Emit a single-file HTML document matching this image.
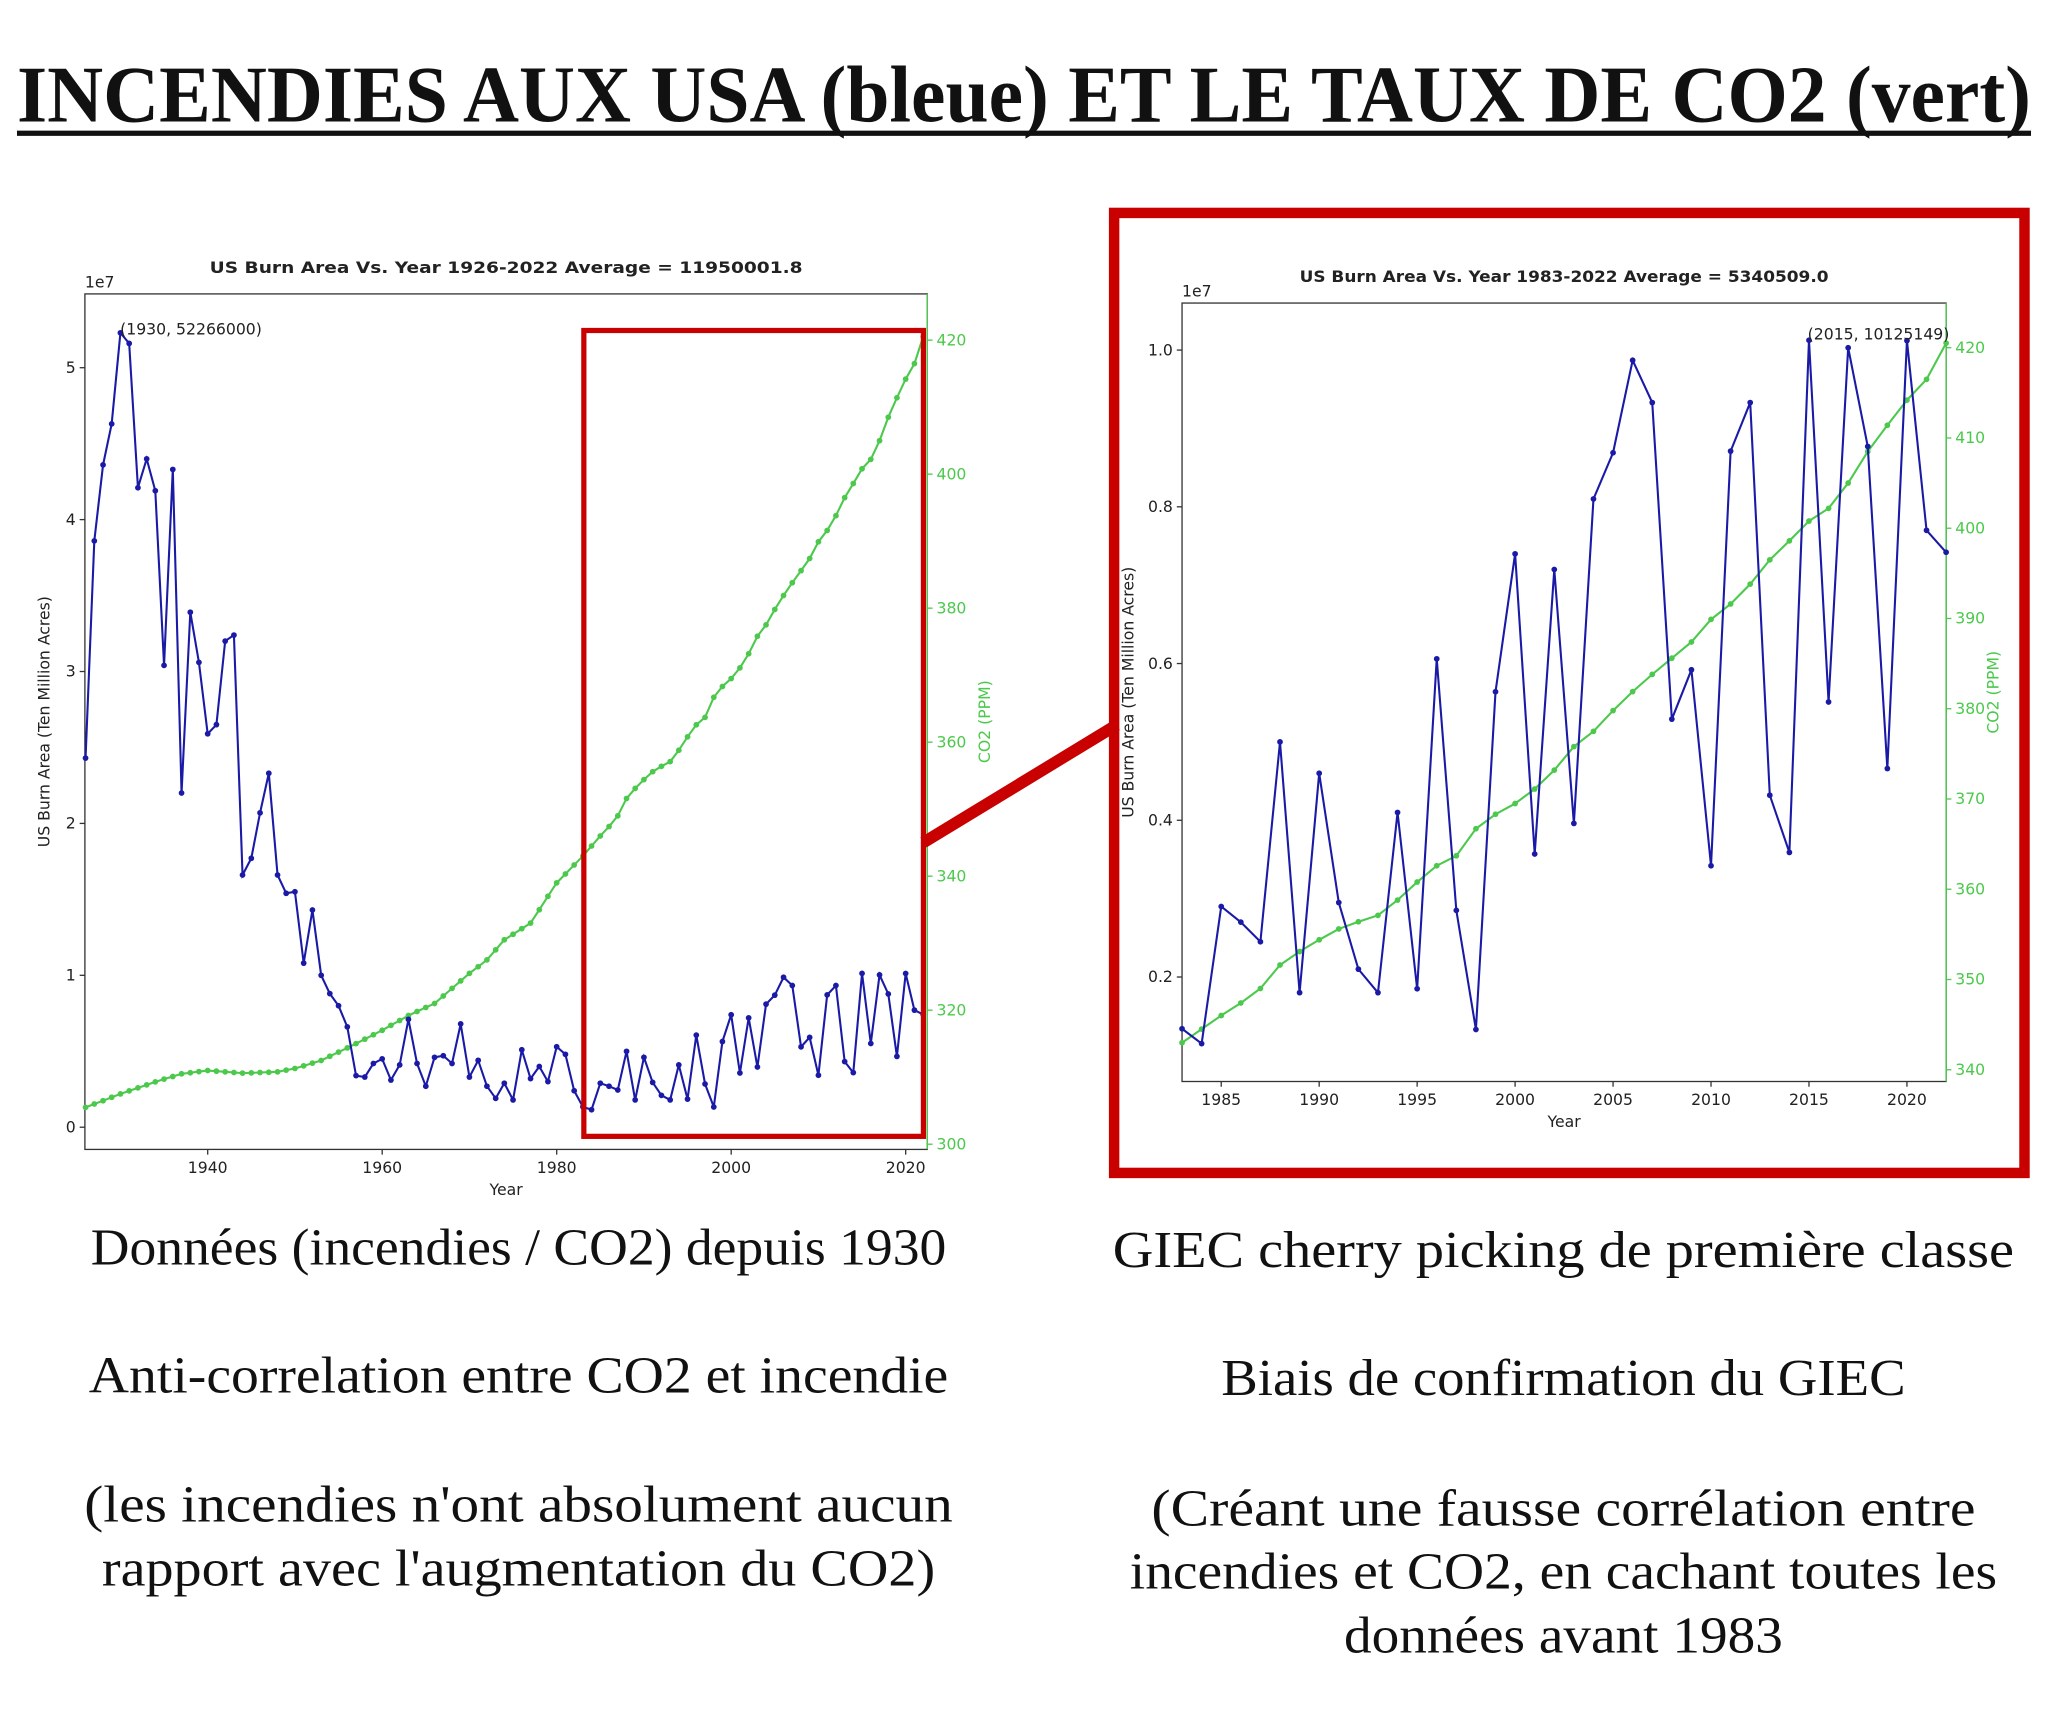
<!DOCTYPE html>
<html><head><meta charset="utf-8">
<style>
html,body{margin:0;padding:0;background:#fff;}
svg{display:block;}
.t{font-family:"Liberation Serif",serif;fill:#111;}
.cap{font-family:"Liberation Serif",serif;font-size:40px;fill:#111;text-anchor:middle;}
.ax{font-family:"DejaVu Sans","Liberation Sans",sans-serif;font-size:12px;fill:#222;}
.gr{fill:#4cc94c;}
</style></head>
<body>
<svg id="s" width="2048" height="1715" viewBox="0 0 1568 1313" xmlns="http://www.w3.org/2000/svg">
<rect width="1568" height="1313" fill="#fff"/>
<text class="t" x="13" y="93" font-size="62" font-weight="bold" textLength="1542" lengthAdjust="spacingAndGlyphs">INCENDIES AUX USA (bleue) ET LE TAUX DE CO2 (vert)</text>
<rect x="13" y="100" width="1542" height="4" fill="#111"/>

<g id="left"></g>
<g id="right"></g>

<rect x="447" y="253" width="260" height="617" fill="none" stroke="#c80000" stroke-width="4"/>
<line x1="707" y1="645" x2="855" y2="555" stroke="#c80000" stroke-width="9"/>
<rect x="853" y="163" width="697" height="735" fill="none" stroke="#c80000" stroke-width="8"/>

<text class="cap" x="397" y="968" textLength="655" lengthAdjust="spacingAndGlyphs">Données (incendies / CO2) depuis 1930</text>
<text class="cap" x="397" y="1066" textLength="658" lengthAdjust="spacingAndGlyphs">Anti-correlation entre CO2 et incendie</text>
<text class="cap" x="397" y="1165" textLength="665" lengthAdjust="spacingAndGlyphs">(les incendies n'ont absolument aucun</text>
<text class="cap" x="397" y="1214" textLength="638" lengthAdjust="spacingAndGlyphs">rapport avec l'augmentation du CO2)</text>

<text class="cap" x="1197" y="970" textLength="690" lengthAdjust="spacingAndGlyphs">GIEC cherry picking de première classe</text>
<text class="cap" x="1197" y="1068" textLength="524" lengthAdjust="spacingAndGlyphs">Biais de confirmation du GIEC</text>
<text class="cap" x="1197" y="1168" textLength="631" lengthAdjust="spacingAndGlyphs">(Créant une fausse corrélation entre</text>
<text class="cap" x="1197" y="1216" textLength="664" lengthAdjust="spacingAndGlyphs">incendies et CO2, en cachant toutes les</text>
<text class="cap" x="1197" y="1265" textLength="336" lengthAdjust="spacingAndGlyphs">données avant 1983</text>
</svg>
<script>
var burn={1926:2.43,1927:3.86,1928:4.36,1929:4.63,1930:5.23,1931:5.16,1932:4.21,1933:4.40,1934:4.19,1935:3.04,1936:4.33,1937:2.20,1938:3.39,1939:3.06,1940:2.59,1941:2.65,1942:3.20,1943:3.24,1944:1.66,1945:1.77,1946:2.07,1947:2.33,1948:1.66,1949:1.54,1950:1.55,1951:1.08,1952:1.43,1953:1.00,1954:0.88,1955:0.80,1956:0.66,1957:0.34,1958:0.33,1959:0.42,1960:0.45,1961:0.31,1962:0.41,1963:0.71,1964:0.42,1965:0.27,1966:0.46,1967:0.47,1968:0.42,1969:0.68,1970:0.33,1971:0.44,1972:0.27,1973:0.19,1974:0.29,1975:0.18,1976:0.51,1977:0.32,1978:0.40,1979:0.30,1980:0.53,1981:0.48,1982:0.24,1983:0.134,1984:0.115,1985:0.29,1986:0.27,1987:0.245,1988:0.50,1989:0.18,1990:0.46,1991:0.295,1992:0.21,1993:0.18,1994:0.41,1995:0.185,1996:0.606,1997:0.285,1998:0.133,1999:0.564,2000:0.74,2001:0.357,2002:0.72,2003:0.396,2004:0.81,2005:0.869,2006:0.987,2007:0.933,2008:0.529,2009:0.592,2010:0.342,2011:0.871,2012:0.933,2013:0.432,2014:0.359,2015:1.0125,2016:0.551,2017:1.003,2018:0.877,2019:0.466,2020:1.012,2021:0.770,2022:0.742};
var co2k={1926:305.5,1930:307.5,1934:309.3,1937:310.5,1940:311,1944:310.6,1948:310.8,1950:311.3,1953:312.5,1957:315,1960:317,1963:319.2,1966:321,1970:325.5,1972:327.5,1974:330.5,1977:333,1980:339,1983:343,1985:346,1986:347.4,1987:349,1988:351.6,1989:353.1,1990:354.4,1991:355.6,1992:356.4,1993:357.1,1994:358.8,1995:360.8,1996:362.6,1997:363.7,1998:366.7,1999:368.3,2000:369.5,2001:371.1,2002:373.2,2003:375.8,2004:377.5,2005:379.8,2006:381.9,2007:383.8,2008:385.6,2009:387.4,2010:389.9,2011:391.6,2012:393.8,2013:396.5,2014:398.6,2015:400.8,2016:402.2,2017:405,2018:408.5,2019:411.4,2020:414.2,2021:416.5,2022:420.5};
var ks=Object.keys(co2k).map(Number).sort(function(a,b){return a-b});
function co2(y){for(var i=0;i<ks.length-1;i++){if(y>=ks[i]&&y<=ks[i+1]){var a=ks[i],b=ks[i+1];return co2k[a]+(co2k[b]-co2k[a])*(y-a)/(b-a);}}return co2k[2022];}
var G='#4cc94c';
function chart(g,o){
 var h='';var X=function(y){return o.x0+(y-o.y0)*o.sx};
 var Yb=function(v){return o.by0+(v-o.bv0)*o.bs};
 var Yc=function(v){return o.cy0+(v-o.cv0)*o.cs};
 h+='<rect x="'+o.L+'" y="'+o.T+'" width="'+(o.R-o.L)+'" height="'+(o.B-o.T)+'" fill="none" stroke="#333" stroke-width="1"/>';
 h+='<line x1="'+o.R+'" y1="'+o.T+'" x2="'+o.R+'" y2="'+o.B+'" stroke="'+G+'" stroke-width="1"/>';
 o.xt.forEach(function(t){var x=X(t);h+='<line x1="'+x+'" y1="'+o.B+'" x2="'+x+'" y2="'+(o.B+4)+'" stroke="#333"/><text class="ax" x="'+x+'" y="'+(o.B+18)+'" text-anchor="middle">'+t+'</text>';});
 o.bt.forEach(function(t){var y=Yb(t[0]);h+='<line x1="'+(o.L-4)+'" y1="'+y+'" x2="'+o.L+'" y2="'+y+'" stroke="#333"/><text class="ax" x="'+(o.L-7)+'" y="'+(y+4)+'" text-anchor="end">'+t[1]+'</text>';});
 o.ct.forEach(function(t){var y=Yc(t);h+='<line x1="'+o.R+'" y1="'+y+'" x2="'+(o.R+4)+'" y2="'+y+'" stroke="'+G+'"/><text class="ax gr" x="'+(o.R+7)+'" y="'+(y+4)+'">'+t+'</text>';});
 var pc='',pb='',dc='',db='';
 for(var yr=o.y0;yr<=o.y1;yr++){var x=X(yr),yc=Yc(co2(yr)),yb=Yb(burn[yr]);
  pc+=(yr==o.y0?'M':'L')+x.toFixed(1)+' '+yc.toFixed(1);pb+=(yr==o.y0?'M':'L')+x.toFixed(1)+' '+yb.toFixed(1);
  dc+='<circle cx="'+x.toFixed(1)+'" cy="'+yc.toFixed(1)+'" r="2.2" fill="'+G+'"/>';
  db+='<circle cx="'+x.toFixed(1)+'" cy="'+yb.toFixed(1)+'" r="2.2" fill="#1a1aa6"/>';}
 h+='<path d="'+pc+'" fill="none" stroke="'+G+'" stroke-width="1.6"/>'+dc;
 h+='<path d="'+pb+'" fill="none" stroke="#1a1aa6" stroke-width="1.6"/>'+db;
 h+='<text class="ax" x="'+o.L+'" y="'+(o.T-5)+'" font-size="10">1e7</text>';
 h+='<text class="ax" x="'+((o.L+o.R)/2)+'" y="'+(o.T-16)+'" text-anchor="middle" font-weight="bold" font-size="13" textLength="'+o.tl+'" lengthAdjust="spacingAndGlyphs">'+o.title+'</text>';
 h+='<text class="ax" x="'+((o.L+o.R)/2)+'" y="'+(o.B+35)+'" text-anchor="middle" font-size="13">Year</text>';
 var my=(o.T+o.B)/2;
 h+='<text class="ax" transform="translate('+(o.L-o.yl)+','+my+') rotate(-90)" text-anchor="middle" font-size="13">US Burn Area (Ten Million Acres)</text>';
 h+='<text class="ax gr" transform="translate('+(o.R+o.cl)+','+my+') rotate(-90)" text-anchor="middle" font-size="13">CO2 (PPM)</text>';
 h+='<text class="ax" x="'+o.an[0]+'" y="'+o.an[1]+'" font-size="13">'+o.an[2]+'</text>';
 document.getElementById(g).innerHTML=h;
}
chart('left',{L:65,R:710,T:225,B:880,x0:65.5,y0:1926,y1:2022,sx:6.68,by0:863,bv0:0,bs:-116.3,cy0:876,cv0:300,cs:-5.13,
 xt:[1940,1960,1980,2000,2020],bt:[[0,'0'],[1,'1'],[2,'2'],[3,'3'],[4,'4'],[5,'5']],ct:[300,320,340,360,380,400,420],tl:454,
 title:'US Burn Area Vs. Year 1926-2022 Average = 11950001.8',yl:27,cl:48,an:[92,256,'(1930, 52266000)']});
chart('right',{L:905,R:1490,T:232,B:828,x0:905,y0:1983,y1:2022,sx:15,by0:748,bv0:0.2,bs:-600,cy0:819,cv0:340,cs:-6.91,
 xt:[1985,1990,1995,2000,2005,2010,2015,2020],bt:[[0.2,'0.2'],[0.4,'0.4'],[0.6,'0.6'],[0.8,'0.8'],[1.0,'1.0']],ct:[340,350,360,370,380,390,400,410,420],tl:405,
 title:'US Burn Area Vs. Year 1983-2022 Average = 5340509.0',yl:37,cl:40,an:[1384,260,'(2015, 10125149)']});
</script>
</body></html>
